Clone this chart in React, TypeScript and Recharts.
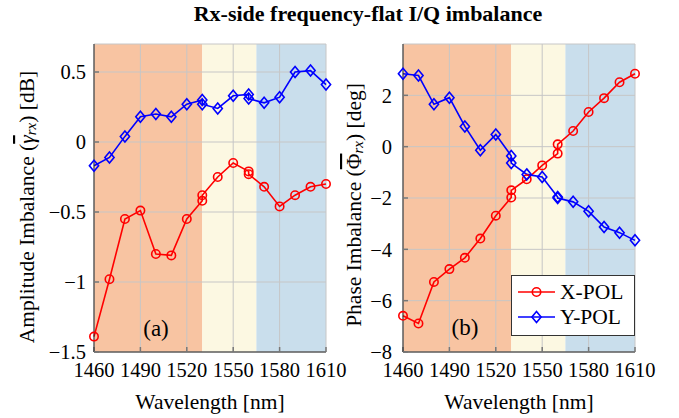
import React from 'react';
import {
  LineChart, Line, XAxis, YAxis, CartesianGrid, ReferenceArea, Legend, Label,
} from 'recharts';

const wavelength = [1460, 1470, 1480, 1490, 1500, 1510, 1520, 1530, 1530, 1540, 1550, 1560, 1560, 1570, 1580, 1590, 1600, 1610];
const ampXPol = [-1.39, -0.98, -0.55, -0.49, -0.80, -0.81, -0.55, -0.42, -0.38, -0.25, -0.15, -0.21, -0.23, -0.32, -0.46, -0.38, -0.32, -0.30];
const ampYPol = [-0.17, -0.11, 0.04, 0.18, 0.20, 0.18, 0.27, 0.30, 0.27, 0.24, 0.33, 0.34, 0.31, 0.28, 0.32, 0.50, 0.51, 0.41];
const phaseXPol = [-6.59, -6.89, -5.27, -4.77, -4.33, -3.58, -2.69, -1.98, -1.70, -1.27, -0.73, -0.27, 0.09, 0.61, 1.35, 1.89, 2.51, 2.84];
const phaseYPol = [2.84, 2.77, 1.65, 1.91, 0.79, -0.14, 0.47, -0.36, -0.64, -1.08, -1.18, -1.96, -2.00, -2.15, -2.52, -3.13, -3.35, -3.65];

const xTicks = [1460, 1490, 1520, 1550, 1580, 1610];
const ampTicks = [-1.5, -1, -0.5, 0, 0.5];
const phaseTicks = [-8, -6, -4, -2, 0, 2];
const bandEdges = [1460, 1530, 1565, 1610];
const bandColors = ['#F8C4A2', '#FCF8E2', '#C9DEEC'];

const FONT = '"Liberation Serif", "DejaVu Serif", serif';
const RED = '#FF0000';
const BLUE = '#0000FF';
const TICK_FS = 20.5;
const LABEL_FS = 21.5;

const ampData = wavelength.map((w, i) => ({ w, x: ampXPol[i], y: ampYPol[i] }));
const phaseData = wavelength.map((w, i) => ({ w, x: phaseXPol[i], y: phaseYPol[i] }));

const minus = (v: number) => String(v).replace('-', '\u2212');

const CircleDot = (props: any) => {
  const { cx, cy } = props;
  if (cx == null || cy == null) return null;
  return <circle cx={cx} cy={cy} r={4.2} fill="none" stroke={RED} strokeWidth={1.6} />;
};

const DiamondDot = (props: any) => {
  const { cx, cy } = props;
  if (cx == null || cy == null) return null;
  const pts = `${cx},${cy - 5.5} ${cx + 4.6},${cy} ${cx},${cy + 5.5} ${cx - 4.6},${cy}`;
  return <polygon points={pts} fill="none" stroke={BLUE} strokeWidth={1.6} />;
};

const LegendBox = () => (
  <svg width={124} height={62} style={{ display: 'block', fontFamily: FONT }}>
    <rect x={0.5} y={0.5} width={123} height={60} fill="#fff" stroke="#333" strokeWidth={1} />
    <line x1={7} y1={17} x2={44} y2={17} stroke={RED} strokeWidth={1.6} />
    <circle cx={25.5} cy={17} r={4.2} fill="none" stroke={RED} strokeWidth={1.6} />
    <text x={49} y={17} dominantBaseline="central" fontSize={21.5} fill="#000">X-POL</text>
    <line x1={7} y1={42} x2={44} y2={42} stroke={BLUE} strokeWidth={1.6} />
    <polygon points="25.5,36.5 30.1,42 25.5,47.5 20.9,42" fill="none" stroke={BLUE} strokeWidth={1.6} />
    <text x={49} y={42} dominantBaseline="central" fontSize={21.5} fill="#000">Y-POL</text>
  </svg>
);

interface PanelProps {
  data: { w: number; x: number; y: number }[];
  domain: [number, number];
  ticks: number[];
  width: number;
  margin: { top: number; right: number; bottom: number; left: number };
  yWidth: number;
  yTickMargin: number;
  xLabelX: number;
  yLabel: React.ReactNode;
  letter: string;
  letterPos: [number, number];
  legend?: boolean;
}

function Panel({ data, domain, ticks, width, margin, yWidth, yTickMargin, xLabelX, yLabel, letter, letterPos, legend }: PanelProps) {
  const axisLine = { stroke: '#262626', strokeWidth: 1 };
  const tickLine = { stroke: '#777', strokeWidth: 1.5 };
  return (
    <LineChart width={width} height={418} data={data} margin={margin}>
      {bandColors.map((c, i) => (
        <ReferenceArea key={i} x1={bandEdges[i]} x2={bandEdges[i + 1]} fill={c} fillOpacity={1} stroke="none" zIndex={-200} />
      ))}
      <CartesianGrid stroke="#c6c6c6" strokeWidth={1} />
      <XAxis
        dataKey="w" type="number" domain={[1460, 1610]} ticks={xTicks} height={30}
        tickSize={-5} tickMargin={15} axisLine={axisLine} tickLine={tickLine}
        tick={{ fontSize: TICK_FS, fill: '#000' }} interval={0}
      >
        <Label
          content={() => (
            <g>
              <text x={xLabelX} y={402} textAnchor="middle" dominantBaseline="central"
                fontSize={LABEL_FS} fill="#000">Wavelength [nm]</text>
              <text x={letterPos[0]} y={letterPos[1]} textAnchor="middle" dominantBaseline="central"
                fontSize={23} fill="#000">{letter}</text>
            </g>
          )}
        />
      </XAxis>
      <XAxis xAxisId="top" orientation="top" type="number" domain={[1460, 1610]} ticks={xTicks} height={0}
        tick={false} tickSize={-5} axisLine={{ stroke: '#000', strokeWidth: 1 }} tickLine={tickLine} />
      <YAxis
        type="number" domain={domain} ticks={ticks} width={yWidth} tickSize={-5} tickMargin={yTickMargin}
        axisLine={axisLine} tickLine={tickLine} tickFormatter={minus}
        tick={{ fontSize: TICK_FS, fill: '#000' }} interval={0}
      >
        <Label content={() => yLabel} />
      </YAxis>
      <YAxis yAxisId="right" orientation="right" type="number" domain={domain} ticks={ticks} width={0}
        tick={false} tickSize={-5} axisLine={{ stroke: '#000', strokeWidth: 1 }} tickLine={tickLine} />
      <Line dataKey="x" name="X-POL" stroke={RED} strokeWidth={1.6} dot={<CircleDot />} isAnimationActive={false} />
      <Line dataKey="y" name="Y-POL" stroke={BLUE} strokeWidth={1.6} dot={<DiamondDot />} isAnimationActive={false} />
      {legend && (
        <Legend layout="vertical" align="center" verticalAlign="middle"
          wrapperStyle={{ left: 171, top: 275, width: 124, height: 62 }} content={() => <LegendBox />} />
      )}
    </LineChart>
  );
}

export default function App() {
  const ampLabel = (
    <text x={27} y={207} transform="rotate(-90 27 207)" textAnchor="middle" dominantBaseline="central" fontSize={LABEL_FS} fill="#000">
      Amplitude Imbalance (<tspan fontStyle="italic" style={{ textDecoration: 'overline' }}>γ</tspan>
      <tspan fontStyle="italic" fontSize={15} dy={4}>rx</tspan>
      <tspan dy={-4}>) [dB]</tspan>
    </text>
  );
  const phaseLabel = (
    <text x={14} y={205} transform="rotate(-90 14 205)" textAnchor="middle" dominantBaseline="central" fontSize={LABEL_FS} fill="#000">
      Phase Imbalance (<tspan style={{ textDecoration: 'overline' }}>Φ</tspan>
      <tspan fontStyle="italic" fontSize={15} dy={4}>rx</tspan>
      <tspan dy={-4}>) [deg]</tspan>
    </text>
  );
  return (
    <div style={{ position: 'absolute', left: 0, top: 0, width: 679, height: 418, background: '#fff', fontFamily: FONT }}>
      <div style={{ position: 'absolute', left: 0, top: 1, width: 736, textAlign: 'center', fontSize: 22, fontWeight: 'bold', color: '#000' }}>
        Rx-side frequency-flat I/Q imbalance
      </div>
      <div style={{ position: 'absolute', left: 0, top: 0 }}>
        <Panel data={ampData} domain={[-1.5, 0.7]} ticks={ampTicks} width={356}
          margin={{ top: 44, right: 30, bottom: 36, left: 34 }} yWidth={60} yTickMargin={13} xLabelX={210}
          yLabel={ampLabel} letter="(a)" letterPos={[156, 328]} />
      </div>
      <div style={{ position: 'absolute', left: 340, top: 0 }}>
        <Panel data={phaseData} domain={[-8, 4]} ticks={phaseTicks} width={339}
          margin={{ top: 44, right: 44, bottom: 36, left: 13 }} yWidth={50} yTickMargin={16} xLabelX={179}
          yLabel={phaseLabel} letter="(b)" letterPos={[125, 327]} legend />
      </div>
    </div>
  );
}
